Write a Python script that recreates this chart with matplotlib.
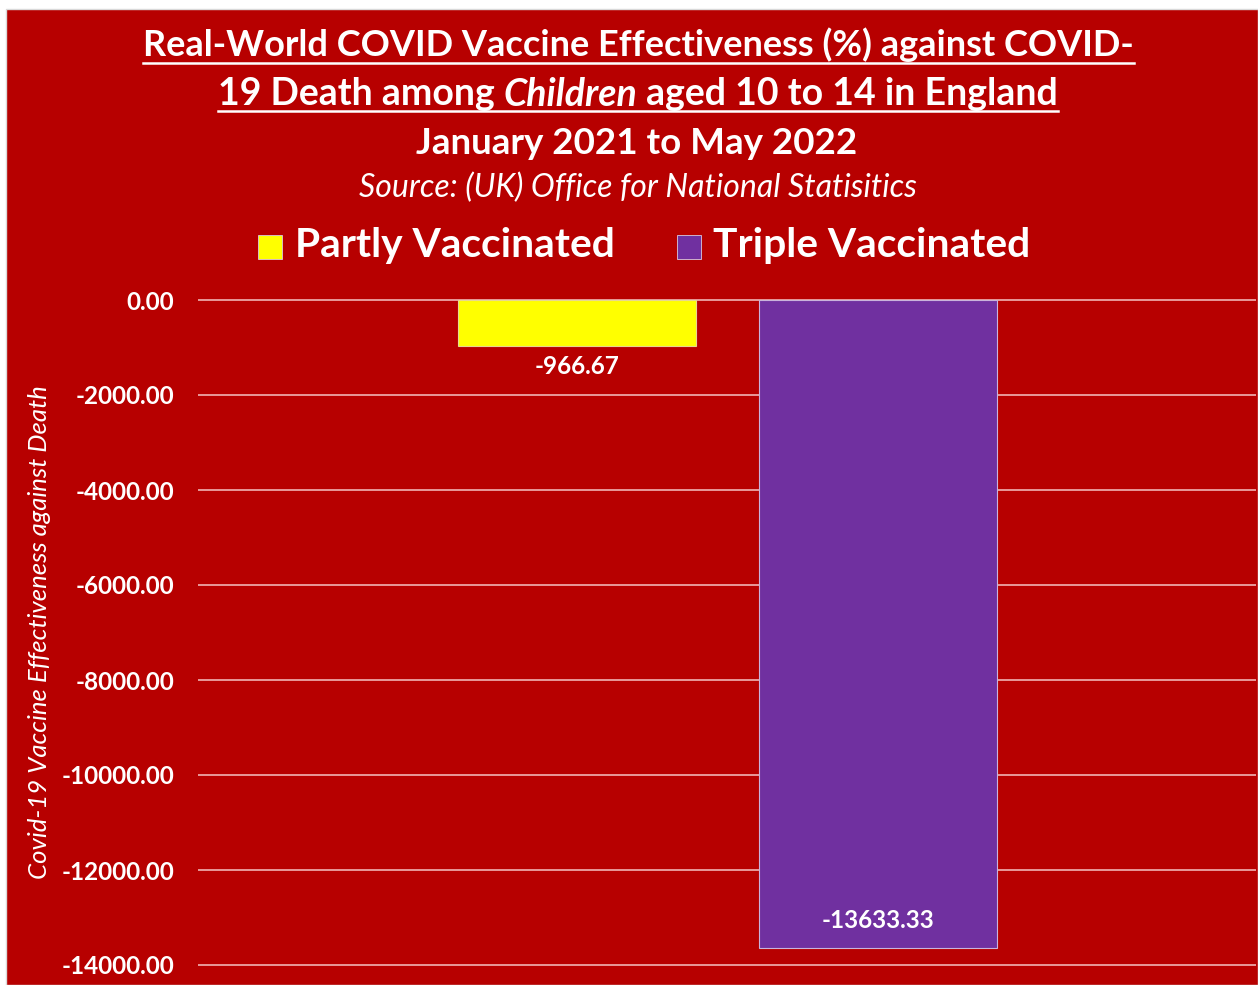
import matplotlib
matplotlib.use('Agg')
import matplotlib.pyplot as plt
from matplotlib.patches import Rectangle
from matplotlib.lines import Line2D

# Datos
series = ['Partly Vaccinated', 'Triple Vaccinated']
values = [-966.67, -13633.33]
colors = ['#FFFF00', '#7030A0']
yticks = [0, -2000, -4000, -6000, -8000, -10000, -12000, -14000]

bg = '#B70000'
W, H = 1258, 985
plt.rcParams['font.family'] = ['Lato', 'DejaVu Sans']

fig = plt.figure(figsize=(W / 100, H / 100), dpi=100, facecolor='white')

# fondo rojo del gráfico
fig.patches.append(Rectangle((6 / W, 0), 1 - 6 / W, 1 - 9 / H, transform=fig.transFigure,
                             facecolor=bg, edgecolor='#d9d9d9', linewidth=1.0, zorder=-5))

ymin, ymax = -14150, 50
pxu = 665 / 14000
top_px = 300 - 50 * pxu
bot_px = 965 + 150 * pxu
ax = fig.add_axes([198 / W, 1 - bot_px / H, (1256 - 198) / W, (bot_px - top_px) / H])
ax.set_facecolor(bg)
ax.patch.set_alpha(0)
for s in ax.spines.values():
    s.set_visible(False)

width = 238 / 1058
offs = [-150 / 1058, 151 / 1058]
edges = ['#e8d890', '#c9b3dc']
for v, c, o, e in zip(values, colors, offs, edges):
    ax.bar(o, v, width=width, color=c, edgecolor=e, linewidth=0.8, zorder=3)

ax.set_xlim(-0.5, 0.5)
ax.set_ylim(ymin, ymax)
ax.set_yticks(yticks)
ax.set_yticklabels(['%.2f' % t for t in yticks], color='white', fontweight='bold', fontsize=17.5)
ax.tick_params(axis='y', length=0, pad=17)
ax.set_xticks([])
ax.yaxis.grid(True, color='#e89a9a', linewidth=1.4, zorder=0)
ax.set_axisbelow(True)

# etiquetas de datos
ax.text(offs[0], values[0] - 440, '%.2f' % values[0], ha='center', va='center',
        color='white', fontweight='bold', fontsize=17.5)
ax.text(offs[1], values[1] + 560, '%.2f' % values[1], ha='center', va='center',
        color='white', fontweight='bold', fontsize=17.5)

fig.text(40 / W, 1 - 632 / H, 'Covid-19 Vaccine Effectiveness against Death', rotation=90,
         ha='center', va='center', color='white', style='italic', fontsize=18.5)

# título con subrayado
fig.canvas.draw()
r = fig.canvas.get_renderer()

def underline(t, ypx):
    bb = t.get_window_extent(r)
    fig.lines.append(Line2D([bb.x0 / W, bb.x1 / W], [1 - ypx / H] * 2, transform=fig.transFigure,
                            color='white', linewidth=1.8))

t1 = fig.text(0.5 * (145 + 1132) / W, 1 - 45 / H,
              'Real-World COVID Vaccine Effectiveness (%) against COVID-',
              ha='center', va='center', color='white', fontweight='bold', fontsize=26)
underline(t1, 63)

# línea 2 con "Children" en cursiva
parts = [('19 Death among ', 'normal'), ('Children', 'italic'), (' aged 10 to 14 in England', 'normal')]
tmp = []
for txt, st in parts:
    t = fig.text(0, 1 - 94 / H, txt, ha='left', va='center', color='white',
                 fontweight='bold', style=st, fontsize=27)
    tmp.append(t)
widths = [t.get_window_extent(r).width for t in tmp]
x = 0.5 * (218 + 1058) - sum(widths) / 2
for t, w in zip(tmp, widths):
    t.set_x(x / W)
    x += w
x0 = 0.5 * (218 + 1058) - sum(widths) / 2
fig.lines.append(Line2D([x0 / W, (x0 + sum(widths)) / W], [1 - 111 / H] * 2,
                        transform=fig.transFigure, color='white', linewidth=1.8))

fig.text(0.5 * (417 + 857) / W, 1 - 143 / H, 'January 2021 to May 2022', ha='center', va='center',
         color='white', fontweight='bold', fontsize=26.5)
fig.text(0.5 * (358 + 917) / W, 1 - 188 / H, 'Source: (UK) Office for National Statisitics',
         ha='center', va='center', color='white', style='italic', fontsize=23)

# leyenda
leg_items = [(258, 295, series[0], colors[0]), (677, 713, series[1], colors[1])]
for sx, tx, lab, c in leg_items:
    fig.patches.append(Rectangle((sx / W, 1 - 259 / H), 24 / W, 24 / H, transform=fig.transFigure,
                                 facecolor=c, edgecolor='#d9c9e0', linewidth=0.6))
    fig.text(tx / W, 1 - 246 / H, lab, ha='left', va='center', color='white',
             fontweight='bold', fontsize=29.3)

fig.savefig('out.png', dpi=100, facecolor=fig.get_facecolor())
